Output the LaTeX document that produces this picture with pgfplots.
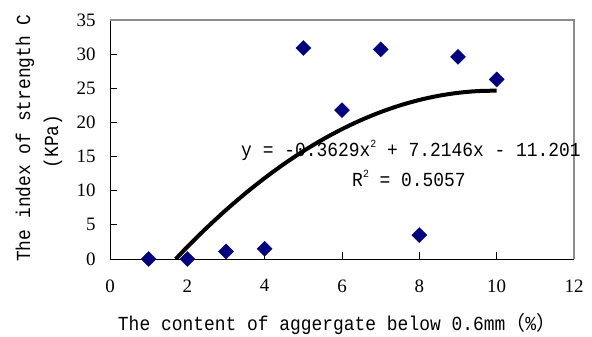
\documentclass[border=0pt]{standalone}
\usepackage{fontspec}
\setmainfont{Liberation Serif}
\newfontfamily\mono[FakeStretch=0.9]{Liberation Mono}
\newfontfamily\cjk{Noto Sans CJK SC}
\usepackage{pgfplots}
\pgfplotsset{compat=1.18}
\definecolor{navy}{RGB}{0,0,128}
\definecolor{boxgray}{RGB}{140,140,140}
\begin{document}
\begin{tikzpicture}[x=1bp,y=1bp]
\useasboundingbox (0,0) rectangle (592,336);
\begin{axis}[
  at={(110bp,77bp)}, anchor=south west,
  width=464bp, height=239bp, scale only axis,
  xmin=0, xmax=12, ymin=0, ymax=35,
  xtick={0,2,...,12}, ytick={0,5,...,35},
  axis x line*=bottom, axis y line*=left,
  axis line style={black, line width=1bp, -},
  tick align=inside, major tick length=7bp,
  tick style={black, line width=1bp},
  /pgf/number format/assume math mode=true,
  ticklabel style={font=\fontsize{19}{22}\selectfont},
  yticklabel style={xshift=-11bp},
  xticklabel style={yshift=-17bp},
  clip mode=individual,
]
\draw[boxgray, line width=1.2bp] (rel axis cs:0,1) -- (rel axis cs:1,1) -- (rel axis cs:1,0);
\addplot[black, line width=4bp, smooth, no marks] coordinates {
 (1.70,0) (2,1.777) (2.5,4.567) (3,7.177) (3.5,9.605) (4,11.851) (4.5,13.916)
 (5,15.799) (5.5,17.502) (6,19.022) (6.5,20.361) (7,21.519) (7.5,22.496)
 (8,23.290) (8.5,23.904) (9,24.336) (9.5,24.586) (10,24.655)};
\addplot[only marks, mark=square*, mark size=5.3bp, mark options={rotate=45, fill=navy, draw=navy}] coordinates {
 (1,0) (2,0) (3,1.1) (4,1.5) (5,30.9) (6,21.8) (7,30.7) (8,3.5) (9,29.6) (10,26.3)};
\end{axis}
\node[font=\mono\fontsize{20}{24}\selectfont, anchor=center] at (411,186) {y = -0.3629x\raisebox{0.45em}{\fontsize{11}{12}\selectfont 2} + 7.2146x - 11.201};
\node[font=\mono\fontsize{20}{24}\selectfont, anchor=center] at (409,158) {R\raisebox{0.45em}{\fontsize{11}{12}\selectfont 2} = 0.5057};
\node[font=\mono\fontsize{20}{24}\selectfont, anchor=base] at (337,6) {The content of aggergate below 0.6mm{\cjk （}\%{\cjk ）}};
\node[font=\mono\fontsize{20}{24}\selectfont, anchor=base, rotate=90] at (30,198) {The index of strength C};
\node[font=\mono\fontsize{20}{24}\selectfont, anchor=base, rotate=90] at (58,194.5) {(KPa)};
\end{tikzpicture}
\end{document}
